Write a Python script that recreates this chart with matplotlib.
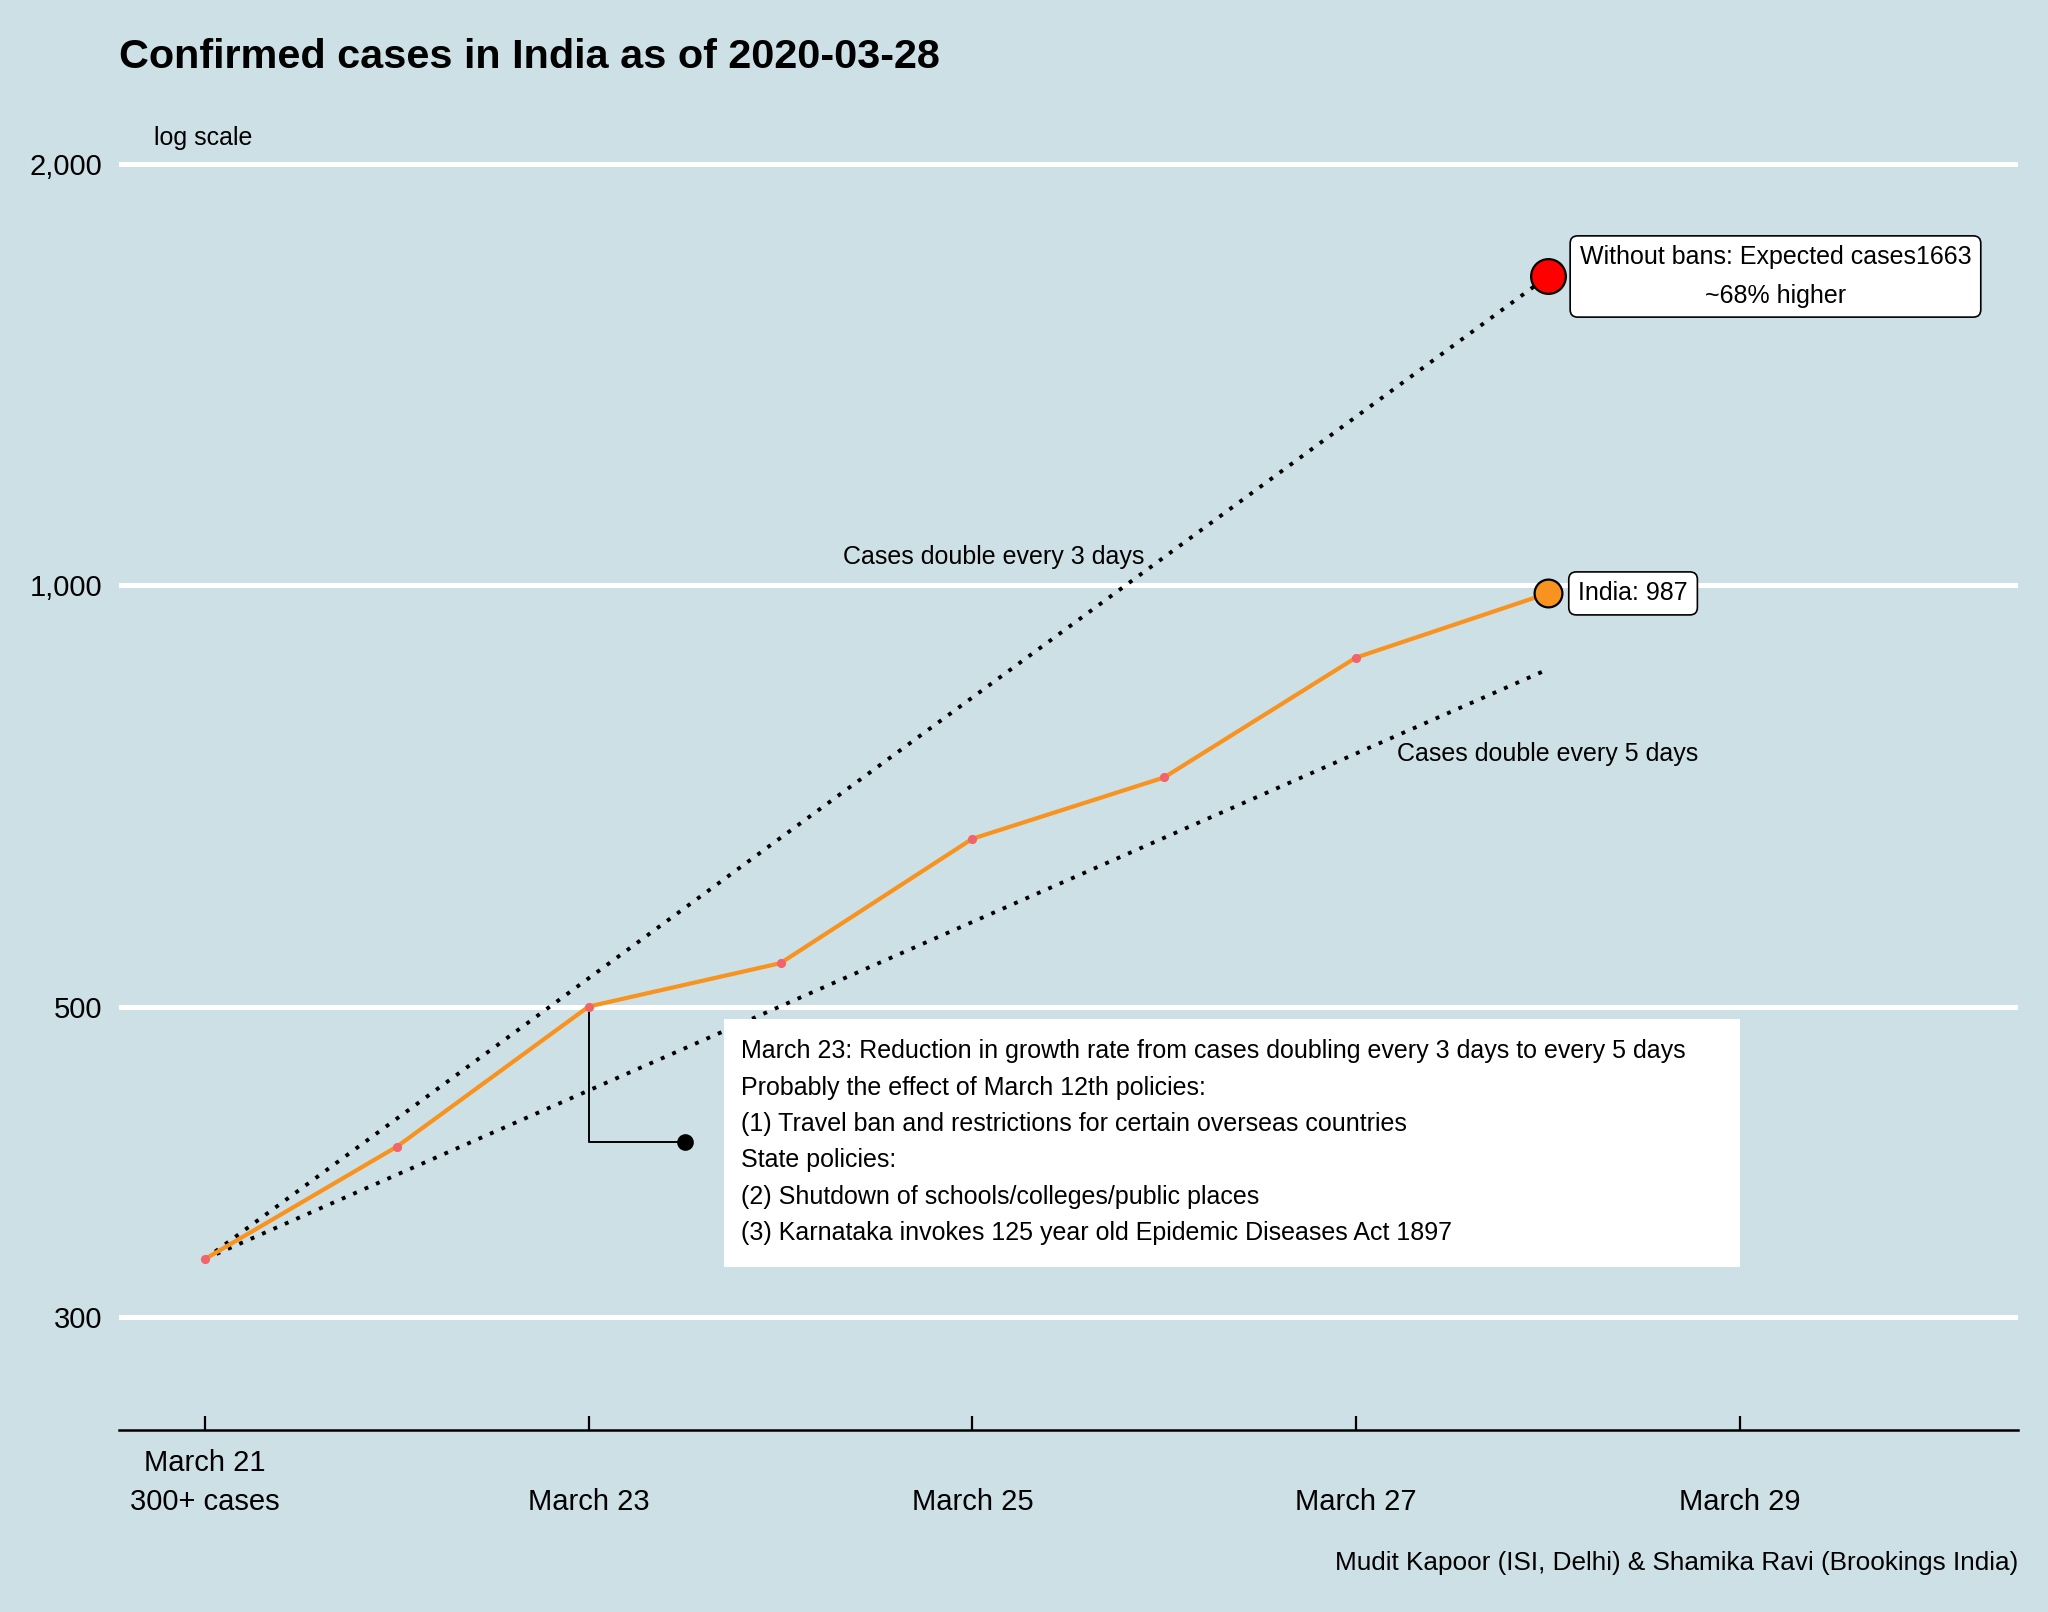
import matplotlib
matplotlib.use("Agg")
import matplotlib.pyplot as plt
import pandas as pd
from matplotlib.patches import Rectangle
from matplotlib.ticker import FixedLocator, NullLocator

plt.rcParams['font.family'] = ['Liberation Sans', 'DejaVu Sans']

# ---- data ----
dates = ["2020-03-21", "2020-03-22", "2020-03-23", "2020-03-24",
         "2020-03-25", "2020-03-26", "2020-03-27", "2020-03-28"]
cases = [330, 397, 500, 537, 659, 729, 888, 987]

double3_dates = ["2020-03-21", "2020-03-28"]
double3_cases = [330, 1663]
double5_dates = ["2020-03-21", "2020-03-28"]
double5_cases = [330, 871]

xtick_dates = ["2020-03-21", "2020-03-23", "2020-03-25", "2020-03-27", "2020-03-29"]
xtick_labels = ["March 21\n300+ cases", "\nMarch 23", "\nMarch 25", "\nMarch 27", "\nMarch 29"]
ytick_values = [300, 500, 1000, 2000]
ytick_labels = ["300", "500", "1,000", "2,000"]

india_label = "India: 987"
without_label = "Without bans: Expected cases1663\n~68% higher"
note_text = ("March 23: Reduction in growth rate from cases doubling every 3 days to every 5 days\n"
             "Probably the effect of March 12th policies:\n"
             "(1) Travel ban and restrictions for certain overseas countries\n"
             "State policies:\n"
             "(2) Shutdown of schools/colleges/public places\n"
             "(3) Karnataka invokes 125 year old Epidemic Diseases Act 1897")

BG = '#CDE0E6'
ORANGE = '#F7931E'
SALMON = '#F2646B'

d0 = pd.Timestamp(dates[0])
def day(s):
    return (pd.Timestamp(s) - d0).days

x = [day(d) for d in dates]
x3 = [day(d) for d in double3_dates]
x5 = [day(d) for d in double5_dates]

W, H = 2048, 1612
fig = plt.figure(figsize=(W / 200, H / 200), dpi=200, facecolor=BG)
ax = fig.add_axes([119 / W, 1 - 1430 / H, (2018 - 119) / W, (1430 - 150) / H])
ax.set_facecolor(BG)
ax.set_yscale('log')
ax.set_ylim(249, 2048)
ax.set_xlim(-0.449, 9.452)

ax.yaxis.set_major_locator(FixedLocator(ytick_values))
ax.yaxis.set_minor_locator(NullLocator())
ax.set_yticklabels(ytick_labels)
ax.xaxis.set_major_locator(FixedLocator([day(d) for d in xtick_dates]))
ax.xaxis.set_minor_locator(NullLocator())
ax.set_xticklabels(xtick_labels)
for lbl in ax.get_xticklabels():
    lbl.set_linespacing(1.5)

ax.set_axisbelow(True)
ax.grid(axis='y', color='white', lw=1.8)
for s in ['top', 'left', 'right']:
    ax.spines[s].set_visible(False)
ax.spines['bottom'].set_linewidth(0.9)
ax.spines['bottom'].set_color('black')
ax.tick_params(axis='x', direction='in', length=5, width=0.8, pad=7, labelsize=10.5, colors='black')
ax.tick_params(axis='y', length=0, pad=6, labelsize=10.5, colors='black')

# doubling lines
ax.plot(x3, double3_cases, color='black', lw=1.4, ls=(0, (1, 2.2)), dash_capstyle='butt', zorder=2)
ax.plot(x5, double5_cases, color='black', lw=1.4, ls=(0, (1, 2.2)), dash_capstyle='butt', zorder=2)

# note box
box_x0, box_x1, box_y0, box_y1 = 2.705, 8.003, 325.5, 490
ax.add_patch(Rectangle((box_x0, box_y0), box_x1 - box_x0, box_y1 - box_y0,
                       facecolor='white', edgecolor='none', zorder=3))
ax.text(2.794, 400, note_text, ha='left', va='center', fontsize=9, linespacing=1.65, zorder=6)

# connector
ax.plot([2, 2, 2.5], [500, 400, 400], color='black', lw=0.7, zorder=4)
ax.plot([2.5], [400], 'o', ms=5, color='black', zorder=4)

# main series
ax.plot(x, cases, color=ORANGE, lw=1.5, zorder=4)
ax.plot(x, cases, 'o', ms=3.3, color=SALMON, mec='none', zorder=5)

# end points
ax.plot([x[-1]], [cases[-1]], 'o', ms=10, mfc=ORANGE, mec='black', mew=0.8, zorder=6)
ax.plot([x3[-1]], [double3_cases[-1]], 'o', ms=12.5, mfc='red', mec='black', mew=0.8, zorder=6)

bbox = dict(boxstyle='round,pad=0.38,rounding_size=0.3', fc='white', ec='black', lw=0.6)
ax.annotate(india_label, xy=(x[-1], cases[-1]), xytext=(11, 0), textcoords='offset points',
            ha='left', va='center', fontsize=9, bbox=bbox, zorder=7)
ax.annotate(without_label, xy=(x3[-1], double3_cases[-1]), xytext=(11.5, 0), textcoords='offset points',
            ha='left', va='center', multialignment='center', fontsize=9, linespacing=1.75,
            bbox=bbox, zorder=7)

ax.text(4.11, 1048, "Cases double every 3 days", ha='center', va='center', fontsize=9, zorder=6)
ax.text(7.0, 758, "Cases double every 5 days", ha='center', va='center', fontsize=9, zorder=6)

fig.text(119 / W, 1 - 57 / H, "Confirmed cases in India as of 2020-03-28",
         ha='left', va='center', fontsize=14.9, fontweight='bold')
fig.text(154 / W, 1 - 138 / H, "log scale", ha='left', va='center', fontsize=9)
fig.text(2018 / W, 1 - 1563 / H, "Mudit Kapoor (ISI, Delhi) & Shamika Ravi (Brookings India)",
         ha='right', va='center', fontsize=9.4)

fig.savefig("out.png", dpi=200, facecolor=BG)
